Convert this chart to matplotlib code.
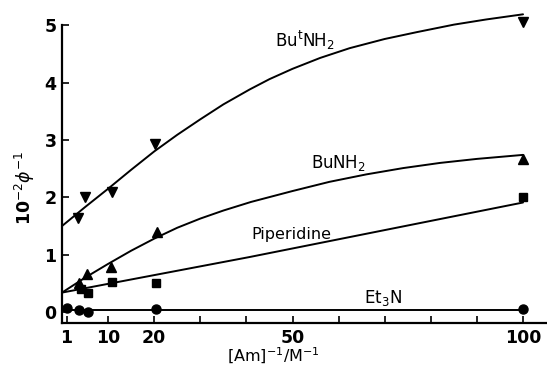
import matplotlib
matplotlib.use("Agg")
import matplotlib.pyplot as plt

plt.rcParams['font.family'] = ['DejaVu Sans']

# --- data ---
but_x = [3.5, 5, 10.9, 20.2, 100]
but_y = [1.64, 2.00, 2.10, 2.93, 5.06]
but_fit_x = [0, 5, 10, 15, 20, 25, 30, 35, 40.7, 45, 50, 56, 62.4, 70, 77, 85, 92, 100]
but_fit_y = [1.50, 1.83, 2.15, 2.48, 2.80, 3.09, 3.36, 3.62, 3.88, 4.06, 4.24,
             4.43, 4.60, 4.76, 4.88, 5.01, 5.10, 5.19]

bu_x = [3.7, 5.4, 10.6, 20.6, 100]
bu_y = [0.50, 0.66, 0.78, 1.39, 2.67]
bu_fit_x = [0, 5, 10, 15, 20, 25, 30, 35, 41, 50, 58, 66, 74, 82, 90, 100]
bu_fit_y = [0.34, 0.60, 0.84, 1.07, 1.28, 1.47, 1.63, 1.77, 1.92, 2.11, 2.27,
            2.40, 2.51, 2.60, 2.67, 2.74]

pip_x = [4.1, 5.7, 10.8, 20.4, 100]
pip_y = [0.40, 0.33, 0.52, 0.50, 2.00]
pip_fit_x = [0, 40.7, 100]
pip_fit_y = [0.34, 0.96, 1.91]

et_x = [1.1, 3.7, 5.7, 20.4, 100]
et_y = [0.07, 0.03, 0.00, 0.05, 0.05]
et_fit_x = [0, 100]
et_fit_y = [0.03, 0.03]

xtick_pos = [1, 10, 20, 30, 40, 50, 60, 70, 80, 90, 100]
xtick_lab = ['1', '10', '20', '', '', '50', '', '', '', '', '100']
ytick_pos = [0, 1, 2, 3, 4, 5]
ytick_lab = ['0', '1', '2', '3', '4', '5']

W, H = 547, 369
fig = plt.figure(figsize=(W / 100, H / 100), dpi=100)
ylo, yhi = -0.19, 5.3
ax = fig.add_axes([62 / W, (H - 323) / H, (W - 62) / W, (323 - 8) / H])
ax.set_xlim(0, 105.2)
ax.set_ylim(ylo, yhi)

lw = 1.4
for fx, fy in [(but_fit_x, but_fit_y), (bu_fit_x, bu_fit_y),
               (pip_fit_x, pip_fit_y), (et_fit_x, et_fit_y)]:
    ax.plot(fx, fy, color='black', lw=lw, clip_on=False,
            solid_capstyle='round', solid_joinstyle='round')

ax.plot(but_x, but_y, 'v', color='black', ms=7, clip_on=False)
ax.plot(bu_x, bu_y, '^', color='black', ms=7, clip_on=False)
ax.plot(pip_x, pip_y, 's', color='black', ms=6, clip_on=False)
ax.plot(et_x, et_y, 'o', color='black', ms=6.5, clip_on=False)

fs = 12
ax.text(52.6, 4.74, 'Bu$^{\\mathrm{t}}$NH$_2$', fontsize=fs, ha='center', va='center')
ax.text(60, 2.60, 'BuNH$_2$', fontsize=fs, ha='center', va='center')
ax.text(49.8, 1.36, 'Piperidine', fontsize=11.5, ha='center', va='center')
ax.text(69.6, 0.24, 'Et$_3$N', fontsize=fs, ha='center', va='center')

for s in ['top', 'right']:
    ax.spines[s].set_visible(False)
ax.spines['left'].set_bounds(ylo, 5.0)
for s in ['left', 'bottom']:
    ax.spines[s].set_linewidth(1.6)

ax.set_xticks(xtick_pos)
ax.set_xticklabels(xtick_lab, fontsize=12.5, fontweight='bold')
ax.set_yticks(ytick_pos)
ax.set_yticklabels(ytick_lab, fontsize=12.5, fontweight='bold')
ax.tick_params(axis='both', direction='in', length=5, width=1.2, pad=4)

fig.text(273 / W, 1 - 356 / H, '[Am]$^{-1}$/M$^{-1}$', fontsize=11.5,
         ha='center', va='center')
fig.text(25 / W, 1 - 188 / H, '10$^{-2}$$\\phi^{-1}$', fontsize=12.5,
         rotation=90, ha='center', va='center', fontweight='bold')

fig.savefig('out.png', dpi=100)
